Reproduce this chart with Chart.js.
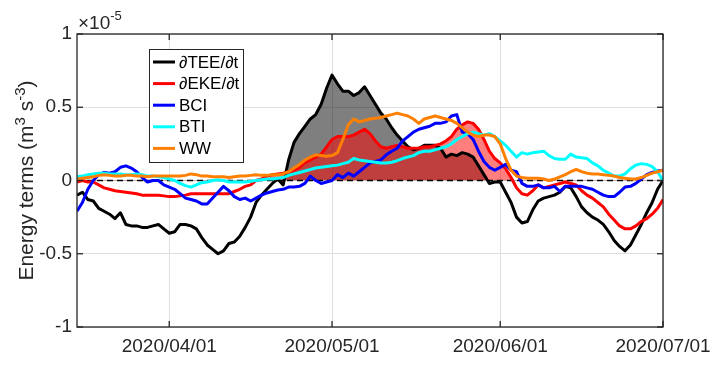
<!DOCTYPE html>
<html>
<head>
<meta charset="utf-8">
<script src="https://cdn.jsdelivr.net/npm/chart.js@4.4.1/dist/chart.umd.min.js"></script>
<style>
  html, body { margin: 0; padding: 0; background: #fff; }
</style>
</head>
<body>
<canvas id="charts" width="727" height="366"></canvas>
<script>
// x = days counted from 2020/03/15, y in units of 1e-5 m^3 s^-3
var days = [0,1,2,3,4,5,6,7,8,9,10,11,12,13,14,15,16,17,18,19,20,21,22,23,24,25,26,27,28,29,
  30,31,32,33,34,35,36,37,38,39,40,41,42,43,44,45,46,47,48,49,50,51,52,53,54,55,56,57,58,59,
  60,61,62,63,64,65,66,67,68,69,70,71,72,73,74,75,76,77,78,79,80,81,82,83,84,85,86,87,88,89,
  90,91,92,93,94,95,96,97,98,99,100,101,102,103,104,105,106,107,108];

var tickDays = [17, 47, 78, 108];
var tickLabels = ['2020/04/01', '2020/05/01', '2020/06/01', '2020/07/01'];

var dTEE = [-0.10,-0.08,-0.13,-0.14,-0.19,-0.21,-0.23,-0.26,-0.22,-0.30,
  -0.31,-0.31,-0.32,-0.32,-0.31,-0.30,-0.33,-0.36,-0.35,-0.30,
  -0.30,-0.31,-0.33,-0.39,-0.44,-0.47,-0.50,-0.48,-0.43,-0.42,
  -0.38,-0.32,-0.25,-0.15,-0.10,-0.06,-0.02,0.01,-0.03,0.14,
  0.26,0.32,0.37,0.42,0.45,0.52,0.63,0.72,0.66,0.61,
  0.61,0.58,0.60,0.64,0.58,0.52,0.46,0.42,0.36,0.31,
  0.27,0.23,0.21,0.22,0.24,0.24,0.24,0.22,0.16,0.18,
  0.17,0.19,0.18,0.16,0.10,0.04,-0.02,-0.01,-0.01,-0.08,
  -0.15,-0.25,-0.29,-0.28,-0.20,-0.14,-0.12,-0.11,-0.10,-0.08,
  -0.04,-0.05,-0.11,-0.18,-0.22,-0.25,-0.27,-0.30,-0.35,-0.41,
  -0.45,-0.48,-0.44,-0.37,-0.30,-0.22,-0.15,-0.06,0.00];

var dEKE = [-0.01,0.00,-0.01,-0.01,-0.03,-0.05,-0.06,-0.07,-0.075,-0.08,
  -0.085,-0.09,-0.10,-0.10,-0.10,-0.10,-0.105,-0.11,-0.11,-0.105,
  -0.10,-0.09,-0.09,-0.09,-0.09,-0.09,-0.09,-0.09,-0.09,-0.075,
  -0.06,-0.04,-0.03,0.00,0.01,0.03,0.04,0.045,0.05,0.06,
  0.07,0.09,0.12,0.14,0.16,0.18,0.23,0.28,0.30,0.30,
  0.30,0.31,0.33,0.35,0.32,0.27,0.23,0.22,0.23,0.24,
  0.23,0.22,0.22,0.22,0.23,0.23,0.24,0.25,0.27,0.30,
  0.35,0.38,0.40,0.39,0.35,0.28,0.20,0.15,0.12,0.08,
  0.02,-0.05,-0.09,-0.10,-0.07,-0.03,-0.05,-0.04,-0.03,-0.02,
  -0.01,-0.02,-0.03,-0.07,-0.10,-0.12,-0.15,-0.18,-0.23,-0.27,
  -0.31,-0.33,-0.33,-0.31,-0.28,-0.26,-0.23,-0.19,-0.13];

var bci = [-0.21,-0.15,-0.06,0.00,0.04,0.055,0.05,0.06,0.09,0.10,
  0.085,0.06,0.02,-0.01,0.00,0.00,-0.03,-0.045,-0.06,-0.09,
  -0.12,-0.13,-0.14,-0.16,-0.16,-0.12,-0.08,-0.04,-0.07,-0.11,
  -0.13,-0.12,-0.14,-0.12,-0.10,-0.085,-0.075,-0.065,-0.06,-0.045,
  -0.045,-0.04,-0.02,0.03,0.00,-0.02,-0.01,0.00,0.04,0.02,
  0.05,0.03,0.06,0.09,0.12,0.13,0.14,0.175,0.20,0.22,
  0.27,0.30,0.33,0.35,0.36,0.37,0.39,0.39,0.40,0.44,
  0.45,0.33,0.32,0.28,0.20,0.13,0.09,0.07,0.09,0.11,
  0.07,0.06,-0.02,-0.04,-0.04,-0.03,-0.05,-0.05,-0.04,-0.075,
  -0.04,-0.04,-0.04,-0.04,-0.05,-0.06,-0.08,-0.10,-0.11,-0.11,
  -0.08,-0.045,-0.04,-0.02,0.01,0.04,0.055,0.065,0.07];

var bti = [0.025,0.03,0.04,0.045,0.05,0.05,0.045,0.045,0.045,0.04,
  0.04,0.045,0.04,0.03,0.03,0.025,0.02,0.01,0.00,-0.02,
  -0.035,-0.045,-0.03,-0.015,-0.01,0.00,0.005,0.00,-0.01,-0.01,
  -0.01,-0.01,-0.005,0.00,0.005,0.01,0.01,0.015,0.02,0.035,
  0.045,0.055,0.065,0.075,0.085,0.09,0.095,0.10,0.105,0.115,
  0.125,0.15,0.14,0.135,0.13,0.125,0.12,0.12,0.125,0.135,
  0.15,0.16,0.17,0.19,0.20,0.20,0.21,0.22,0.23,0.25,
  0.28,0.30,0.32,0.33,0.32,0.31,0.32,0.30,0.27,0.24,
  0.20,0.16,0.19,0.18,0.19,0.195,0.20,0.17,0.15,0.145,
  0.145,0.18,0.16,0.155,0.15,0.12,0.10,0.07,0.05,0.03,
  0.03,0.045,0.08,0.105,0.115,0.11,0.095,0.06,0.00];

var ww = [0.01,0.015,0.02,0.025,0.035,0.04,0.035,0.03,0.03,0.035,
  0.035,0.03,0.03,0.025,0.03,0.03,0.03,0.03,0.03,0.03,
  0.035,0.045,0.04,0.03,0.03,0.025,0.025,0.025,0.02,0.025,
  0.03,0.03,0.035,0.04,0.035,0.035,0.04,0.04,0.045,0.06,
  0.085,0.11,0.14,0.16,0.175,0.17,0.165,0.17,0.19,0.28,
  0.38,0.42,0.40,0.41,0.42,0.425,0.43,0.44,0.45,0.46,
  0.45,0.44,0.42,0.39,0.42,0.43,0.44,0.43,0.42,0.41,
  0.39,0.36,0.33,0.31,0.30,0.31,0.31,0.30,0.25,0.15,
  0.07,0.03,0.02,0.015,0.015,0.015,0.01,0.00,0.01,0.025,
  0.04,0.06,0.075,0.06,0.05,0.045,0.045,0.04,0.035,0.03,
  0.02,0.015,0.01,0.01,0.02,0.035,0.05,0.06,0.07];

var zeroDays = [0, 108];
var zeroVals = [0, 0];

var seriesNames = ['\u2202TEE/\u2202t', '\u2202EKE/\u2202t', 'BCI', 'BTI', 'WW'];
var seriesColors = ['#000000', '#ff0000', '#0000ff', '#00ffff', '#ff8000'];

var FONT = '"Liberation Sans", Arial, Helvetica, sans-serif';
var INK = '#262626';

function pts(xs, ys) {
    return xs.map(function (x, i) { return { x: x, y: ys[i] }; });
}

function line(ctx, x1, y1, x2, y2) {
    ctx.beginPath();
    ctx.moveTo(x1, y1);
    ctx.lineTo(x2, y2);
    ctx.stroke();
}

// MATLAB style box, inward ticks, exponent, y label and legend
var decor = {
    id: 'decor',
    afterDraw: function (chart) {
        var ctx = chart.ctx, a = chart.chartArea;
        var xs = chart.scales.x, ys = chart.scales.y;
        ctx.save();
        ctx.strokeStyle = INK;
        ctx.lineWidth = 1.3;
        ctx.strokeRect(a.left, a.top, a.right - a.left, a.bottom - a.top);
        xs.ticks.forEach(function (t) {
            var px = xs.getPixelForValue(t.value);
            line(ctx, px, a.bottom, px, a.bottom - 6);
            line(ctx, px, a.top, px, a.top + 6);
        });
        ys.ticks.forEach(function (t) {
            var py = ys.getPixelForValue(t.value);
            line(ctx, a.left, py, a.left + 6, py);
            line(ctx, a.right, py, a.right - 6, py);
        });

        // x10^-5
        ctx.fillStyle = INK;
        ctx.textBaseline = 'alphabetic';
        ctx.textAlign = 'left';
        ctx.font = '19px ' + FONT;
        ctx.fillText('\u00d710', a.left + 1, a.top - 5);
        var w = ctx.measureText('\u00d710').width;
        ctx.font = '13px ' + FONT;
        ctx.fillText('-5', a.left + 1 + w, a.top - 14);

        // y axis title with superscripts
        var parts = [['Energy terms (m', 21, 0], ['3', 15, 8], [' s', 21, 0], ['-3', 15, 8], [')', 21, 0]];
        var total = 0;
        parts.forEach(function (p) {
            ctx.font = p[1] + 'px ' + FONT;
            total += ctx.measureText(p[0]).width;
        });
        ctx.translate(33, (a.top + a.bottom) / 2);
        ctx.rotate(-Math.PI / 2);
        var x = -total / 2;
        parts.forEach(function (p) {
            ctx.font = p[1] + 'px ' + FONT;
            ctx.fillText(p[0], x, -p[2]);
            x += ctx.measureText(p[0]).width;
        });
        ctx.setTransform(1, 0, 0, 1, 0, 0);

        // legend box
        var bx = 149, by = 49, bw = 94, bh = 113;
        ctx.fillStyle = '#ffffff';
        ctx.fillRect(bx, by, bw, bh);
        ctx.lineWidth = 1;
        ctx.strokeStyle = INK;
        ctx.strokeRect(bx + 0.5, by + 0.5, bw, bh);
        ctx.font = '17px ' + FONT;
        ctx.textBaseline = 'middle';
        seriesNames.forEach(function (name, i) {
            var ry = by + 13 + i * 21.6;
            ctx.strokeStyle = seriesColors[i];
            ctx.lineWidth = 3;
            line(ctx, bx + 4, ry, bx + 26, ry);
            ctx.fillStyle = '#000000';
            ctx.fillText(name, bx + 30, ry + 1);
        });
        ctx.restore();
    }
};

var sets = [dTEE, dEKE, bci, bti, ww].map(function (vals, i) {
    var ds = {
        label: seriesNames[i],
        data: pts(days, vals),
        borderColor: seriesColors[i],
        borderWidth: 3,
        fill: false,
        order: 5 - i
    };
    if (i === 0) ds.fill = { target: 'origin', above: 'rgba(0,0,0,0.5)', below: 'rgba(0,0,0,0)' };
    if (i === 1) ds.fill = { target: 'origin', above: 'rgba(255,0,0,0.5)', below: 'rgba(0,0,0,0)' };
    return ds;
});
sets.push({
    label: 'zero',
    data: pts(zeroDays, zeroVals),
    borderColor: '#000000',
    borderWidth: 1.5,
    borderDash: [6, 4],
    fill: false,
    order: 6
});

var chart = new Chart(document.getElementById('charts'), {
    type: 'line',
    data: { datasets: sets },
    options: {
        responsive: false,
        animation: false,
        devicePixelRatio: 1,
        layout: { padding: { left: 0, right: 64, top: 34, bottom: 0 } },
        elements: {
            point: { radius: 0 },
            line: { tension: 0, borderJoinStyle: 'round', borderCapStyle: 'butt' }
        },
        plugins: {
            legend: { display: false },
            tooltip: { enabled: false },
            filler: { drawTime: 'beforeDatasetsDraw' }
        },
        scales: {
            x: {
                type: 'linear',
                min: 0,
                max: 108,
                afterBuildTicks: function (s) {
                    s.ticks = tickDays.map(function (v) { return { value: v }; });
                },
                afterFit: function (s) { s.height = 39; },
                ticks: {
                    autoSkip: false,
                    maxRotation: 0,
                    padding: 8,
                    color: INK,
                    font: { family: FONT, size: 19 },
                    callback: function (v, i) { return tickLabels[i]; }
                },
                grid: { color: '#dfdfdf', lineWidth: 1, drawTicks: false },
                border: { display: false }
            },
            y: {
                type: 'linear',
                min: -1,
                max: 1,
                afterFit: function (s) { s.width = 77; },
                ticks: {
                    stepSize: 0.5,
                    padding: 5,
                    color: INK,
                    font: { family: FONT, size: 19 },
                    callback: function (v) { return String(v); }
                },
                grid: { color: '#dfdfdf', lineWidth: 1, drawTicks: false },
                border: { display: false }
            }
        }
    },
    plugins: [decor]
});
</script>
</body>
</html>
